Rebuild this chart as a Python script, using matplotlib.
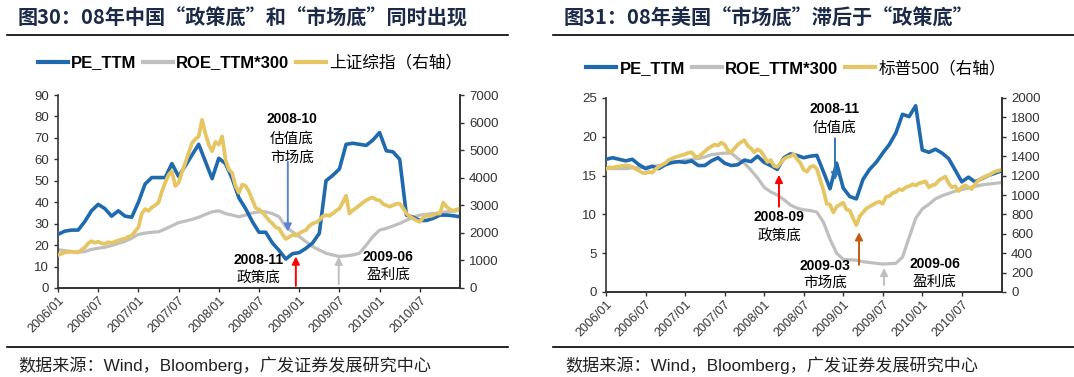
import matplotlib
matplotlib.use("Agg")
import matplotlib.pyplot as plt
import numpy as np

plt.rcParams['font.family'] = ['Liberation Sans', 'Noto Sans CJK SC']
plt.rcParams['axes.unicode_minus'] = False

# x ticks (month index from 2006/01)
tick_pos = [0, 6, 12, 18, 24, 30, 36, 42, 48, 54]
tick_labels = ['2006/01', '2006/07', '2007/01', '2007/07', '2008/01',
               '2008/07', '2009/01', '2009/07', '2010/01', '2010/07']

# ---- China (monthly PE / ROE*300, semi-monthly index) ----
cn_pe = [25, 26.5, 27, 27, 31, 36, 39, 37, 33.5, 36,
         33.5, 33, 40, 48.5, 51.5, 51.5, 51.5, 58, 52, 57,
         62, 67, 59, 51, 60.5, 58, 51, 42, 37, 31,
         26, 26, 21, 17.5, 13.5, 16, 16.5, 18.5, 21, 25.5,
         50, 52.5, 55.5, 67, 67.5, 67, 66.5, 69, 72.5, 64,
         63.5, 60, 34, 33, 31.5, 31.5, 32.5, 34, 34, 33.7, 33.2]
cn_roe = [17.9, 17.4, 17, 16.7, 17, 18, 18.5, 19, 19.8, 20.8,
          21.8, 23.2, 25, 25.6, 26, 26.2, 27.5, 29, 30.5, 31.2,
          32, 33, 34.3, 35.5, 36, 34.7, 34, 33.2, 34, 35,
          35.5, 35.5, 34.7, 33.2, 28.5, 26.2, 24, 21.6, 19.3, 17.7,
          16.2, 15.4, 14.7, 15, 15.4, 16.2, 20, 24, 27, 27.8,
          28.9, 30.1, 31.6, 32.9, 34, 34.4, 34.7, 35, 35.5, 35.8, 36.3]
cn_idx = [1200, 1240, 1290, 1300, 1320, 1290, 1300, 1380, 1470, 1620,
          1700, 1640, 1680, 1620, 1600, 1660, 1630, 1680, 1720, 1770,
          1790, 1860, 1900, 2050, 2200, 2700, 2860, 2800, 2920, 3000,
          3100, 3500, 3820, 4100, 4240, 3700, 3820, 4200, 4540, 4900,
          5260, 5400, 5500, 6100, 5600, 5200, 4960, 5300, 5200, 5500,
          4660, 4300, 4170, 3700, 3460, 3750, 3700, 3500, 3200, 2900,
          2850, 2750, 2600, 2450, 2340, 2200, 2160, 1950, 1780, 1850,
          1920, 1900, 1980, 2050, 2100, 2250, 2340, 2380, 2460, 2600,
          2640, 2620, 2700, 2800, 2880, 3100, 3350, 2700, 2820, 2900,
          3000, 3100, 3180, 3250, 3280, 3200, 3180, 3050, 3000, 2950,
          3000, 3050, 3060, 2900, 2700, 2600, 2520, 2450, 2400, 2550,
          2640, 2600, 2640, 2700, 2700, 3100, 2950, 2850, 2800, 2850, 2880]

# ---- US ----
us_pe = [17.1, 17.3, 17.1, 16.9, 17.1, 16.4, 15.9, 16.2, 15.9, 16.4,
         16.7, 16.8, 16.7, 16.9, 16.3, 16.3, 16.9, 17.3, 16.6, 16.3,
         16.4, 17.0, 16.8, 17.5, 16.7, 16.3, 15.8, 17.3, 17.8, 17.6,
         17.3, 17.5, 17.6, 15.5, 13.3, 16.6, 13.4, 12.3, 12.0, 14.5,
         15.8, 16.7, 17.9, 19.0, 20.5, 22.9, 22.6, 24.0, 18.3, 18.0,
         18.4, 17.9, 17.2, 15.7, 14.2, 14.8, 14.2, 14.6, 15.0, 15.3, 15.6]
us_roe = [15.9, 15.9, 15.9, 15.9, 16.0, 16.0, 16.1, 16.2, 16.3, 16.4,
          16.6, 16.8, 17.0, 17.1, 17.2, 17.4, 17.7, 17.8, 17.9, 17.9,
          17.2, 16.6, 15.7, 14.7, 13.5, 12.9, 12.5, 11.9, 11.2, 10.8,
          10.6, 10.5, 10.3, 9.0, 6.8, 5.0, 4.2, 4.15, 4.1, 3.9,
          3.8, 3.7, 3.6, 3.65, 3.7, 4.5, 7.0, 9.5, 10.7, 11.3,
          12.0, 12.4, 12.7, 13.0, 13.2, 13.4, 13.6, 13.8, 13.9, 14.0, 14.1]
us_idx = [1270, 1285, 1280, 1290, 1295, 1300, 1305, 1300, 1290, 1270,
          1250, 1230, 1225, 1240, 1230, 1265, 1290, 1310, 1330, 1360,
          1375, 1390, 1400, 1410, 1420, 1435, 1440, 1400, 1390, 1420,
          1450, 1480, 1500, 1520, 1510, 1540, 1520, 1460, 1440, 1480,
          1520, 1545, 1565, 1510, 1480, 1440, 1470, 1450, 1400, 1340,
          1360, 1300, 1290, 1330, 1370, 1390, 1400, 1420, 1370, 1330,
          1260, 1240, 1290, 1300, 1270, 1160, 1050, 910, 900, 820,
          880, 900, 920, 850, 840, 760, 690, 780, 820, 860,
          880, 900, 920, 930, 910, 980, 990, 1020, 1030, 1060,
          1050, 1080, 1090, 1110, 1100, 1120, 1130, 1140, 1080, 1100,
          1110, 1150, 1170, 1190, 1120, 1080, 1090, 1040, 1080, 1100,
          1080, 1060, 1110, 1150, 1170, 1190, 1200, 1220, 1240, 1250, 1260]

BLUE = '#1F6AAE'
GRAY = '#BFBFBF'
YELLOW = '#E5C663'
DARK = '#333333'
CJK = ['Noto Sans CJK SC']

fig = plt.figure(figsize=(10.74, 3.77), dpi=100)


def panel(rect, pe, roe, idx, ylim, ystep, y2lim, y2step, xmax):
    ax = fig.add_axes(rect)
    ax2 = ax.twinx()
    m = np.arange(len(pe))
    h = np.arange(len(idx)) / 2
    l1, = ax.plot(m, pe, color=BLUE, lw=2.6, zorder=3)
    l2, = ax.plot(m, roe, color=GRAY, lw=2.3, zorder=2)
    l3, = ax2.plot(h, idx, color=YELLOW, lw=2.7)
    ax.set_xlim(0, xmax)
    ax.set_ylim(*ylim)
    ax2.set_ylim(*y2lim)
    ax.set_yticks(np.arange(ylim[0], ylim[1] + 0.1, ystep))
    ax2.set_yticks(np.arange(y2lim[0], y2lim[1] + 1, y2step))
    ax.set_xticks(tick_pos)
    ax.set_xticklabels(tick_labels, rotation=45, ha='right', va='top',
                       rotation_mode='anchor')
    for a in (ax, ax2):
        a.spines['top'].set_visible(False)
        for s in a.spines.values():
            s.set_color(DARK)
            s.set_linewidth(1.2)
        a.tick_params(colors=DARK, labelsize=9.5, length=3, width=1)
    ax2.spines['left'].set_visible(False)
    ax.tick_params(axis='x', labelsize=9, pad=2)
    return ax, ax2, (l1, l2, l3)


def note(ax, x, y, date, label, dy):
    ax.text(x, y, date, ha='center', va='center', fontsize=10,
            fontweight='bold', family=['Liberation Sans'], color='black')
    for i, t in enumerate(label):
        ax.text(x, y - dy * (i + 1), t, ha='center', va='center',
                fontsize=10.5, family=CJK, color='black')


def arrow(ax, x, y0, y1, color):
    ax.annotate('', xy=(x, y1), xytext=(x, y0),
                arrowprops=dict(arrowstyle='-|>', color=color, lw=1.4,
                                mutation_scale=11, shrinkA=0, shrinkB=0))


# ---- left panel: China ----
axL, axL2, hl = panel([58 / 1074, 89 / 377, 402 / 1074, 193 / 377],
                      cn_pe, cn_roe, cn_idx, (0, 90), 10, (0, 7000), 1000, 60.0)
legL = axL.legend(hl, ['PE_TTM', 'ROE_TTM*300', '上证综指（右轴）'], ncol=3,
                  loc='center', bbox_to_anchor=(250 / 1074, 1 - 63 / 377),
                  bbox_transform=fig.transFigure, frameon=False,
                  fontsize=12, handlelength=1.8, handletextpad=0.2,
                  columnspacing=0.4)
for t in legL.get_texts()[:2]:
    t.set_fontweight('bold')
legL.get_texts()[2].set_family(CJK)
for ln in legL.get_lines():
    ln.set_linewidth(3)

note(axL, 34.9, 79, '2008-10', ['估值底', '市场底'], 9.2)
arrow(axL, 34.3, 58.9, 26.3, '#5B84D6')
note(axL, 29.9, 13.2, '2008-11', ['政策底'], 8.4)
arrow(axL, 35.5, 1.0, 14.7, '#FF0000')
note(axL, 49.3, 14.6, '2009-06', ['盈利底'], 8.4)
arrow(axL, 41.9, 1.8, 14.6, '#BFBFBF')

# ---- right panel: US ----
axR, axR2, hr = panel([606 / 1074, 85 / 377, 396 / 1074, 194 / 377],
                      us_pe, us_roe, us_idx, (0, 25), 5, (0, 2000), 200, 60.1)
legR = axR.legend(hr, ['PE_TTM', 'ROE_TTM*300', '标普500（右轴）'], ncol=3,
                  loc='center', bbox_to_anchor=(796 / 1074, 1 - 68 / 377),
                  bbox_transform=fig.transFigure, frameon=False,
                  fontsize=12, handlelength=1.8, handletextpad=0.2,
                  columnspacing=0.4)
for t in legR.get_texts()[:2]:
    t.set_fontweight('bold')
for ln in legR.get_lines():
    ln.set_linewidth(3)

note(axR, 34.75, 23.6, '2008-11', ['估值底'], 2.5)
arrow(axR, 34.75, 19.8, 14.4, '#2E75B6')
note(axR, 26.25, 9.7, '2008-09', ['政策底'], 2.4)
arrow(axR, 26.25, 11.0, 15.1, '#FF0000')
note(axR, 33.2, 3.35, '2009-03', ['市场底'], 2.2)
arrow(axR, 38.4, 3.5, 7.7, '#C55A11')
note(axR, 49.9, 3.6, '2009-06', ['盈利底'], 2.3)
arrow(axR, 42.2, 0.9, 3.1, '#BFBFBF')

# ---- titles, rules and source notes ----
TITLE = '#1B2A47'
fig.text(18 / 1074, 1 - 18 / 377, '图30：08年中国“政策底”和“市场底”同时出现',
         fontsize=14.5, fontweight='bold', family=CJK, color=TITLE, va='center')
fig.text(564 / 1074, 1 - 18 / 377, '图31：08年美国“市场底”滞后于“政策底”',
         fontsize=14.5, fontweight='bold', family=CJK, color=TITLE, va='center')
for x0, x1 in [(7, 508), (553, 1074)]:
    for yy in (35, 347):
        fig.add_artist(plt.Line2D([x0 / 1074, x1 / 1074], [1 - yy / 377] * 2,
                                  color='black', lw=1.2))
src = '数据来源：Wind，Bloomberg，广发证券发展研究中心'
fig.text(18 / 1074, 1 - 365 / 377, src, fontsize=12.3, color='#222222', va='center')
fig.text(565 / 1074, 1 - 365 / 377, src, fontsize=12.3, color='#222222', va='center')

fig.savefig('out.png', dpi=100)
